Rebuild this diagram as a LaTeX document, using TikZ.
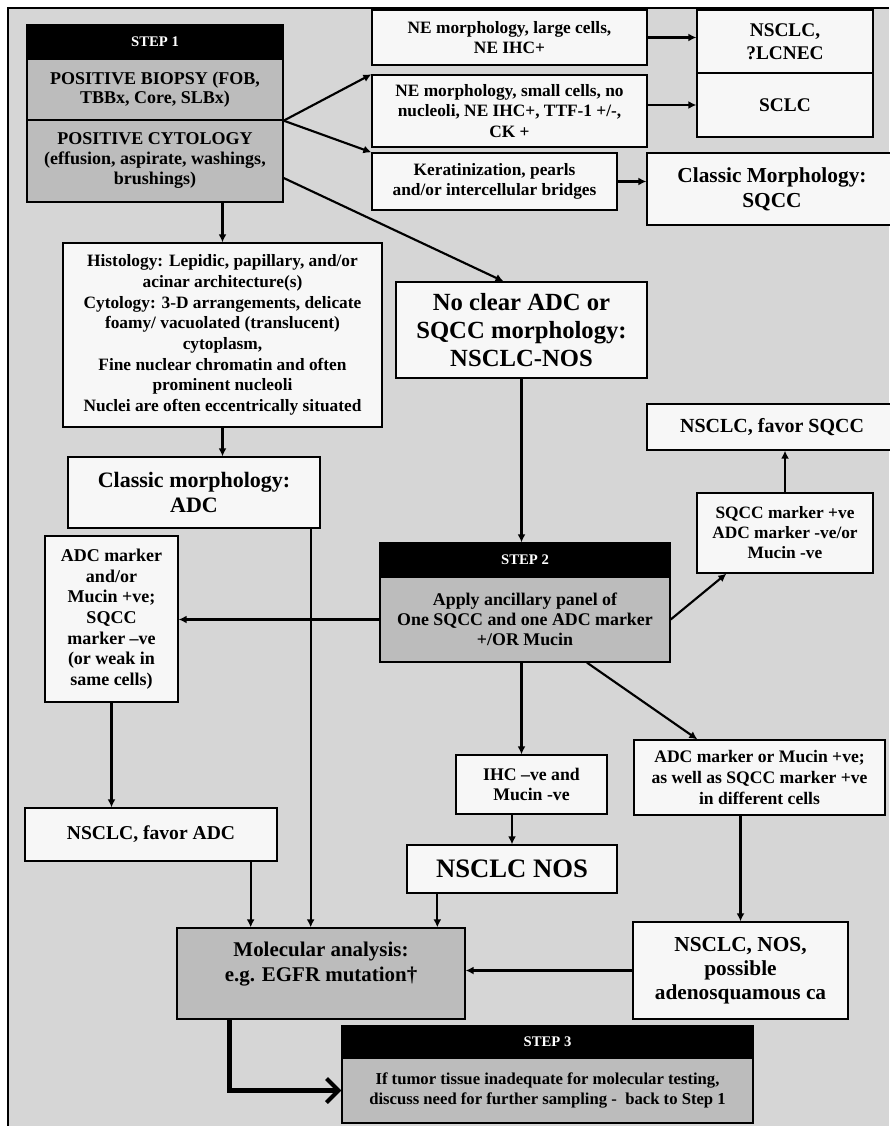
\documentclass[tikz,border=0pt]{standalone}
\usepackage{fontspec}
\setmainfont{Liberation Serif}
\usetikzlibrary{arrows.meta,calc}

\definecolor{panelgrey}{RGB}{214,214,214}
\definecolor{stepgrey}{RGB}{188,188,188}
\definecolor{boxwhite}{RGB}{247,247,247}

\tikzset{
	box/.style={draw=black, line width=1pt, fill=boxwhite, align=center, inner sep=2pt},
	greybox/.style={box, fill=stepgrey},
	stephead/.style={box, fill=black, text=white, font=\bfseries\fontsize{11}{13}\selectfont},
	sz/.style 2 args={minimum width=#1*0.75pt, minimum height=#2*0.75pt},
	fs/.style 2 args={font=\bfseries\fontsize{#1}{#2}\selectfont},
	link/.style={line width=1.6pt, -{Latex[length=6pt,width=6pt]}},
	bigarrow/.style={line width=4pt, -{Straight Barb[length=9pt,width=18pt,line width=3pt]}},
}

\begin{document}
\begin{tikzpicture}[x=0.75pt,y=-0.75pt]
	\useasboundingbox (0,0) rectangle (889,1126);
	\fill[white] (0,0) rectangle (889,1126);
	\fill[panelgrey] (8,8) rectangle (889,1126);
	\draw[line width=0.8pt] (8,1126) -- (8,8) -- (889,8);

	\node[stephead, sz={256}{34}] (s1head) at (155,42) {STEP 1};
	\node[greybox, sz={256}{61}, fs={13.5}{14}] (biopsy) at (155,89.5) {POSITIVE BIOPSY (FOB,\\TBBx, Core, SLBx)};
	\node[greybox, sz={256}{82}, fs={13.5}{15}] (cytology) at (155,161) {POSITIVE CYTOLOGY\\(effusion, aspirate, washings,\\brushings)};

	\node[box, sz={275}{55}, fs={13}{15}] (nelarge) at (509.5,37.5) {NE morphology, large cells,\\NE IHC+};
	\node[box, sz={275}{72}, fs={13}{15.5}] (nesmall) at (509.5,111) {NE morphology, small cells, no\\nucleoli, NE IHC+, TTF-1 +/-,\\CK +};
	\node[box, sz={245}{57}, fs={13}{15}] (kerat) at (494.5,181.5) {Keratinization, pearls\\and/or intercellular bridges};
	\node[box, sz={176}{63}, fs={14.5}{17}] (lcnec) at (785,41.5) {NSCLC,\\?LCNEC};
	\node[box, sz={176}{64}, fs={14.5}{17}] (sclc) at (785,105) {SCLC};
	\node[box, sz={250}{72}, fs={16}{19}] (sqcc) at (772,189) {Classic Morphology:\\SQCC};

	\node[box, sz={319}{184}, fs={13}{15.5}] (histo) at (222.5,335) {Histology: Lepidic, papillary, and/or\\acinar architecture(s)\\Cytology: 3-D arrangements, delicate\\foamy/ vacuolated (translucent)\\cytoplasm,\\Fine nuclear chromatin and often\\prominent nucleoli\\Nuclei are often eccentrically situated};
	\node[box, sz={252}{71}, fs={16.5}{19}] (adcmorph) at (194,492.5) {Classic morphology:\\ADC};
	\node[box, sz={251}{96}, fs={18.5}{21}] (nos) at (521.5,330) {No clear ADC or\\SQCC morphology:\\NSCLC-NOS};

	\node[box, sz={250}{46}, fs={15}{18}] (favsqcc) at (772,427) {NSCLC, favor SQCC};
	\node[box, sz={176}{80}, fs={13}{15}] (sqmark) at (785,533) {SQCC marker +ve\\ADC marker -ve/or\\Mucin -ve};
	\node[stephead, sz={290}{34}] (s2head) at (525,560) {STEP 2};
	\node[greybox, sz={290}{85}, fs={13.4}{15}] (s2body) at (525,619.5) {Apply ancillary panel of\\One SQCC and one ADC marker\\+/OR Mucin};
	\node[box, sz={133}{166}, fs={13.5}{15.5}] (adcmark) at (111.5,619) {ADC marker\\and/or\\Mucin +ve;\\SQCC\\marker --ve\\(or weak in\\same cells)};

	\node[box, sz={252}{53}, fs={14.7}{17}] (favadc) at (151,834.5) {NSCLC, favor ADC};
	\node[box, sz={151}{59}, fs={13.3}{15.5}] (ihc) at (531.5,784.5) {IHC --ve and\\Mucin -ve};
	\node[box, sz={251}{75}, fs={13.2}{15.5}] (adcmuc) at (759.5,777.5) {ADC marker or Mucin +ve;\\as well as SQCC marker +ve\\in different cells};
	\node[box, sz={210}{48}, fs={20}{22}] (nosnos) at (512,869) {NSCLC NOS};
	\node[greybox, sz={288}{91}, fs={15.7}{19}, text depth=18pt] (molec) at (321,973.5) {Molecular analysis:\\e.g. EGFR mutation\textdagger};
	\node[box, sz={215}{97}, fs={16}{18}] (adsq) at (740.5,970.5) {NSCLC, NOS,\\possible\\adenosquamous ca};
	\node[stephead, sz={411}{32}] (s3head) at (547.5,1042) {STEP 3};
	\node[greybox, sz={411}{65}, fs={12.5}{15}] (s3body) at (547.5,1090.5) {If tumor tissue inadequate for molecular testing,\\discuss need for further sampling -\ \ back to Step 1};

	\coordinate (adcdrop) at ($(adcmorph.south east)+(-10,0)$);
	\coordinate (favdrop) at ($(favadc.south east)+(-27,0)$);
	\coordinate (nosdrop) at ($(nosnos.south west)+(31,0)$);
	\coordinate (moldrop) at ($(molec.south west)+(53,0)$);

	\draw[link] (biopsy.south east) -- (nesmall.north west);
	\draw[link] (biopsy.south east) -- (kerat.north west);
	\draw[link] ($(cytology.east)+(0,17)$) -- ($(nos.north)+(-18,0)$);
	\draw[link] (histo.north |- cytology.south) -- (histo.north);
	\draw[link] (histo.south) -- (histo.south |- adcmorph.north);
	\draw[link] (nelarge.east) -- (nelarge.east -| lcnec.west);
	\draw[link] (sclc.west -| nesmall.east) -- (sclc.west);
	\draw[link] (kerat.east) -- (kerat.east -| sqcc.west);
	\draw[link] (nos.south) -- (nos.south |- s2head.north);
	\draw[link] (adcdrop) -- (adcdrop |- molec.north);
	\draw[link] (s2body.west) -- (s2body.west -| adcmark.east);
	\draw[link] (s2body.east) -- ($(sqmark.south west)+(30,0)$);
	\draw[link] (sqmark.north) -- (sqmark.north |- favsqcc.south);
	\draw[link] (s2body.south -| nos.south) -- (nos.south |- ihc.north);
	\draw[link] ($(s2body.south)+(62,0)$) -- ($(adcmuc.north west)+(64,0)$);
	\draw[link] (adcmark.south) -- (adcmark.south |- favadc.north);
	\draw[link] (favdrop) -- (favdrop |- molec.north);
	\draw[link] (nosnos.north |- ihc.south) -- (nosnos.north);
	\draw[link] (nosdrop) -- (nosdrop |- molec.north);
	\draw[link] (adsq.north |- adcmuc.south) -- (adsq.north);
	\draw[link] (adsq.west) -- (adsq.west -| molec.east);
	\draw[bigarrow] (moldrop) |- (s3body.west);
\end{tikzpicture}
\end{document}
